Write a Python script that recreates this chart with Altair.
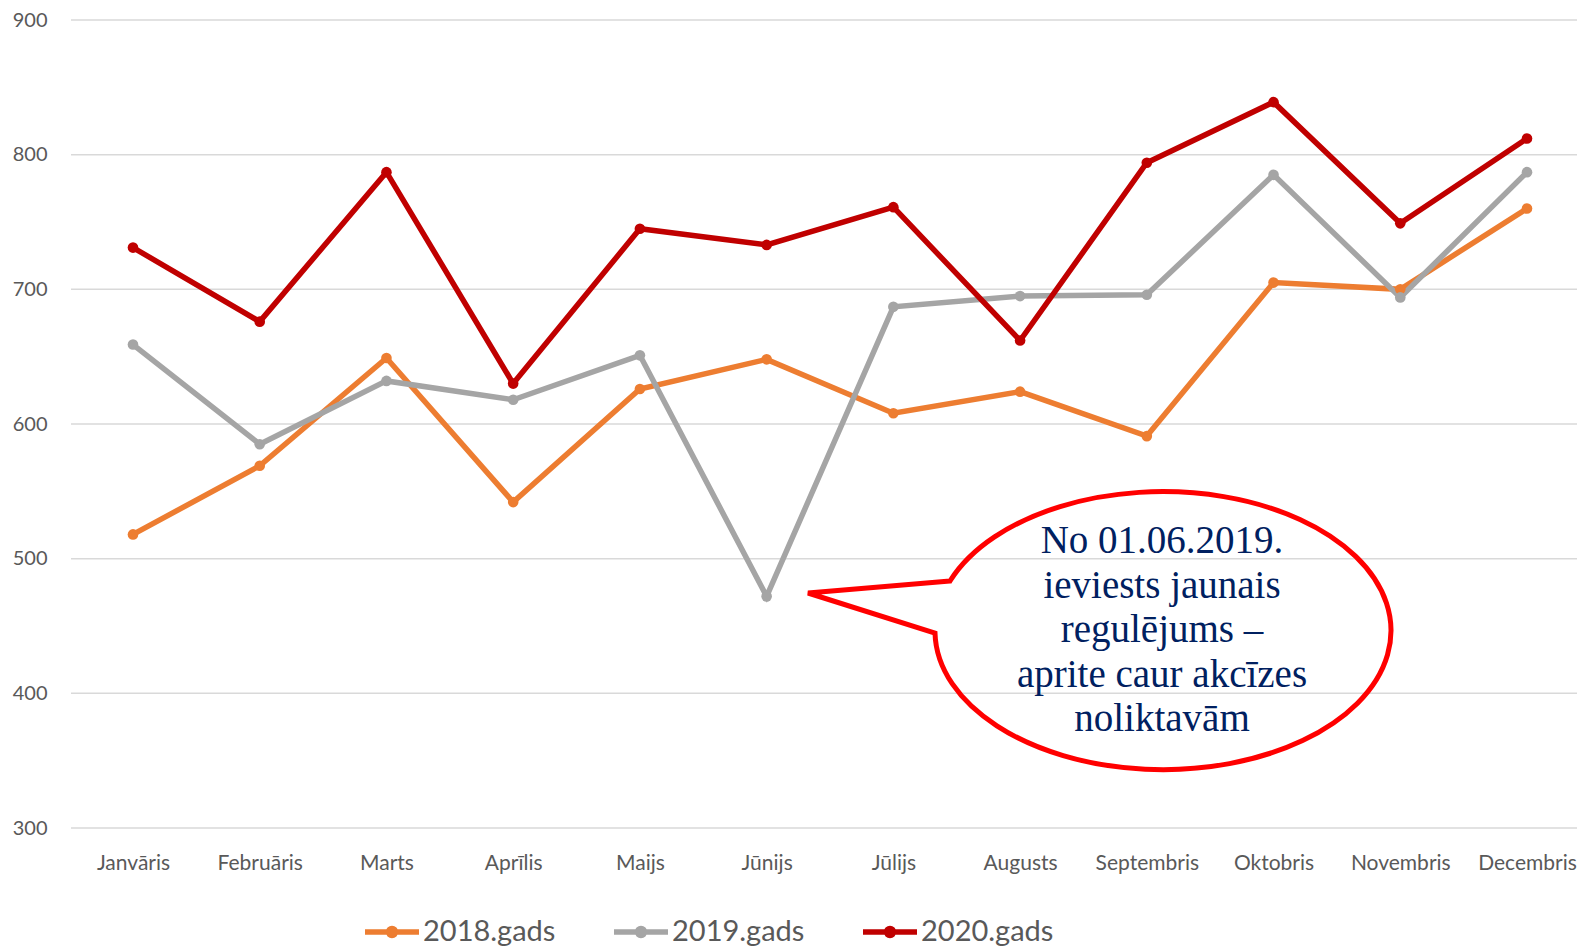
import altair as alt
import pandas as pd

months = ["Janvāris", "Februāris", "Marts", "Aprīlis", "Maijs", "Jūnijs",
          "Jūlijs", "Augusts", "Septembris", "Oktobris", "Novembris", "Decembris"]
series_names = ["2018.gads", "2019.gads", "2020.gads"]
v2018 = [518, 569, 649, 542, 626, 648, 608, 624, 591, 705, 700, 760]
v2019 = [659, 585, 632, 618, 651, 472, 687, 695, 696, 785, 694, 787]
v2020 = [731, 676, 787, 630, 745, 733, 761, 662, 794, 839, 749, 812]
colors = ["#ED7D31", "#A5A5A5", "#C00000"]
y_ticks = [300, 400, 500, 600, 700, 800, 900]
annotation_lines = ["No 01.06.2019.", "ieviests jaunais", "regulējums –",
                    "aprite caur akcīzes", "noliktavām"]

rows = []
for name, vals in zip(series_names, [v2018, v2019, v2020]):
    for m, v in zip(months, vals):
        rows.append({"month": m, "series": name, "value": v})
df = pd.DataFrame(rows)
grid_df = pd.DataFrame({"value": y_ticks})

W, H = 1506, 808
FONT = "Lato"
GREY = "#595959"

legend_symbol = "M-1,0L1,0M0.13,0A0.13,0.13,0,1,1,-0.13,0A0.13,0.13,0,1,1,0.13,0"

x = alt.X("month:N", sort=months,
          scale=alt.Scale(type="point", range=[62, 1456], padding=0),
          axis=alt.Axis(title=None, labelAngle=0, domain=False, ticks=False,
                        labelFont=FONT, labelFontSize=21, labelColor=GREY,
                        labelPadding=24, labelOverlap=False, grid=False))
y_scale = alt.Scale(domain=[300, 900], nice=False, zero=False)
y_axis = alt.Axis(title=None, values=y_ticks, domain=False, ticks=False,
                  labelFont=FONT, labelFontSize=20, labelColor=GREY,
                  labelPadding=24, grid=False)
y = alt.Y("value:Q", scale=y_scale, axis=y_axis)
color_legend = alt.Legend(title=None, orient="none", legendX=291, legendY=882,
                          direction="horizontal", columns=3,
                          symbolType=legend_symbol, symbolSize=2916,
                          symbolStrokeWidth=5.5, labelFont=FONT, labelFontSize=29,
                          labelColor=GREY, labelOffset=1, columnPadding=47)
color = alt.Color("series:N", sort=series_names,
                  scale=alt.Scale(domain=series_names, range=colors),
                  legend=color_legend)

grid = alt.Chart(grid_df).mark_rule(color="#D9D9D9", strokeWidth=1.5).encode(
    y=y, x=alt.value(0), x2=alt.value(W))

base = alt.Chart(df)
lines = base.mark_line(strokeWidth=5.5).encode(x=x, y=y, color=color)
points = base.mark_point(filled=True, size=113, opacity=1).encode(
    x=x, y=y, color=alt.Color("series:N", sort=series_names,
                              scale=alt.Scale(domain=series_names, range=colors),
                              legend=None))

callout_path = ("M-210,-50L-352,-38L-225,2"
                "A228,139,0,1,0,-210,-50Z")
callout = alt.Chart(pd.DataFrame({"k": [0]})).mark_point(
    shape=callout_path, size=4, filled=False, stroke="#FF0000",
    strokeWidth=5, opacity=1, strokeJoin="miter"
).encode(x=alt.value(1089), y=alt.value(611))

note = alt.Chart(pd.DataFrame({"k": [0]})).mark_text(
    text=annotation_lines, font="Liberation Serif", fontSize=39,
    lineHeight=44.5, color="#002060", align="center", baseline="middle"
).encode(x=alt.value(1091), y=alt.value(521))

chart = alt.layer(grid, lines, points, callout, note).properties(
    width=W, height=H,
    padding={"left": 63, "top": 12, "right": 0, "bottom": 119},
    autosize=alt.AutoSizeParams(type="none"),
    background="white",
).configure_view(stroke=None)

chart.save("out.html", embed_options={"renderer": "svg", "actions": False})
